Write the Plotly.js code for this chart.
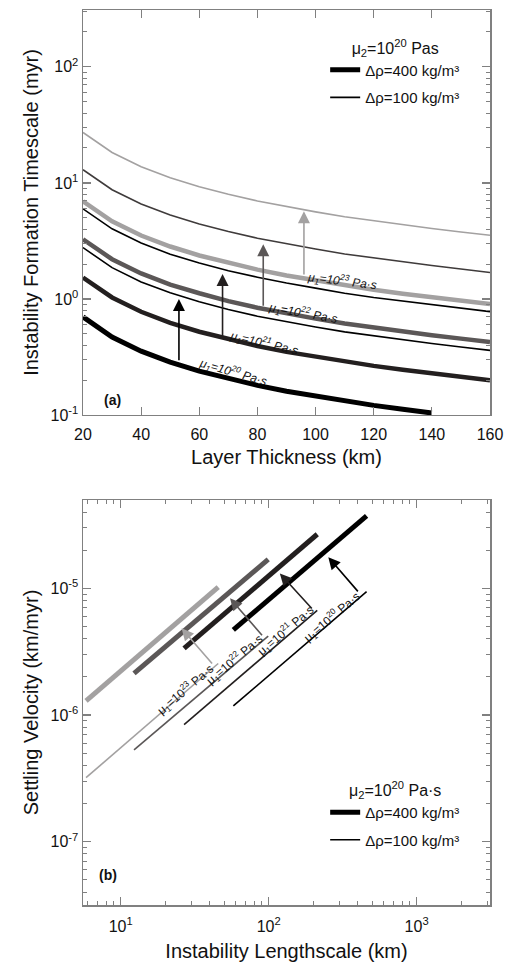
<!DOCTYPE html>
<html>
<head>
<meta charset="utf-8">
<script src="https://cdn.plot.ly/plotly-3.0.1.min.js"></script>
<style>html,body{margin:0;padding:0;background:#fff;}#chart{width:508px;height:962px;}</style>
</head>
<body>
<div id="chart"></div>
<script>
// ---- Panel (a): Layer thickness (km) vs instability formation timescale (myr)
const thickness = [20, 30, 40, 50, 60, 70, 80, 90, 100, 110, 120, 130, 140, 150, 160];
const thickness140 = [20, 30, 40, 50, 60, 70, 80, 90, 100, 110, 120, 130, 140];
const t20_400 = [0.70, 0.47, 0.355, 0.285, 0.239, 0.205, 0.18, 0.16, 0.145, 0.132, 0.121, 0.112, 0.104];
const t20_100 = [2.77, 1.86, 1.40, 1.13, 0.945, 0.81, 0.71, 0.634, 0.573, 0.52, 0.48, 0.443, 0.413, 0.385, 0.36];
const t21_400 = [1.53, 1.03, 0.776, 0.623, 0.522, 0.448, 0.393, 0.35, 0.317, 0.288, 0.265, 0.245, 0.228, 0.213, 0.199];
const t21_100 = [5.98, 4.02, 3.03, 2.43, 2.04, 1.75, 1.54, 1.37, 1.24, 1.12, 1.03, 0.957, 0.891, 0.831, 0.777];
const t22_400 = [3.27, 2.20, 1.66, 1.33, 1.12, 0.958, 0.84, 0.749, 0.677, 0.615, 0.566, 0.523, 0.487, 0.455, 0.425];
const t22_100 = [13.0, 8.74, 6.59, 5.29, 4.43, 3.81, 3.34, 2.98, 2.69, 2.44, 2.25, 2.08, 1.94, 1.81, 1.69];
const t23_400 = [6.95, 4.67, 3.52, 2.83, 2.37, 2.04, 1.79, 1.59, 1.44, 1.31, 1.20, 1.11, 1.04, 0.966, 0.904];
const t23_100 = [27.2, 18.3, 13.8, 11.1, 9.28, 7.97, 6.99, 6.23, 5.63, 5.11, 4.71, 4.35, 4.05, 3.78, 3.54];

// ---- Panel (b): Instability lengthscale (km) vs settling velocity (km/myr)
const L23 = [5.83, 45.6];
const L22 = [12.3, 99.3];
const L21 = [26.8, 213];
const L20 = [57.7, 459];
const v23_400 = [1.29e-6, 1.02e-5];
const v22_400 = [2.13e-6, 1.69e-5];
const v21_400 = [3.36e-6, 2.67e-5];
const v20_400 = [4.69e-6, 3.73e-5];
const v23_100 = [3.2e-7, 2.55e-6];
const v22_100 = [5.3e-7, 4.2e-6];
const v21_100 = [8.4e-7, 6.7e-6];
const v20_100 = [1.18e-6, 9.4e-6];

// tick labels
const ticksA_x = [20, 40, 60, 80, 100, 120, 140, 160];
const ticksA_y = [0.1, 1, 10, 100];
const ticksA_ytext = ['10<sup>-1</sup>', '10<sup>0</sup>', '10<sup>1</sup>', '10<sup>2</sup>'];
const ticksB_x = [10, 100, 1000];
const ticksB_xtext = ['10<sup>1</sup>', '10<sup>2</sup>', '10<sup>3</sup>'];
const ticksB_y = [1e-7, 1e-6, 1e-5];
const ticksB_ytext = ['10<sup>-7</sup>', '10<sup>-6</sup>', '10<sup>-5</sup>'];
const minorA_y = [0.2,0.3,0.4,0.5,0.6,0.7,0.8,0.9,2,3,4,5,6,7,8,9,20,30,40,50,60,70,80,90,200,300];
const minorB_x = [6,7,8,9,20,30,40,50,60,70,80,90,200,300,400,500,600,700,800,900,2000,3000];
const minorB_y = [4e-8,5e-8,6e-8,7e-8,8e-8,9e-8,2e-7,3e-7,4e-7,5e-7,6e-7,7e-7,8e-7,9e-7,
                  2e-6,3e-6,4e-6,5e-6,6e-6,7e-6,8e-6,9e-6,2e-5,3e-5,4e-5];

const C20 = '#000000', C21 = '#231f1f', C22 = '#5b5757', C23 = '#a3a1a1';
const THICK = 4.5, THIN = 1.6;

function tr(x, y, color, width, ax, name, legend, show, group) {
  return {
    x: x, y: y, type: 'scatter', mode: 'lines',
    line: {color: color, width: width},
    xaxis: ax === 1 ? 'x' : 'x2', yaxis: ax === 1 ? 'y' : 'y2',
    name: name || '', legend: legend || 'legend', showlegend: !!show,
    legendgroup: group || '', hoverinfo: 'skip'
  };
}

const traces = [
  tr(thickness, t23_100, C23, THIN, 1),
  tr(thickness, t22_100, '#3f3b3b', THIN, 1),
  tr(thickness, t23_400, C23, THICK, 1),
  tr(thickness, t21_100, C20, THIN, 1),
  tr(thickness, t22_400, C22, THICK, 1),
  tr(thickness, t21_400, C21, THICK, 1),
  tr(thickness140, t20_400, C20, THICK + 0.5, 1, 'Δρ=400 kg/m³', 'legend', true, 'a400'),
  tr(thickness, t20_100, C20, THIN, 1, 'Δρ=100 kg/m³', 'legend', true, 'a100'),

  tr(L23, v23_400, C23, 5, 2),
  tr(L22, v22_400, C22, 5, 2),
  tr(L21, v21_400, C21, 5, 2),
  tr(L20, v20_400, C20, 5, 2, 'Δρ=400 kg/m³', 'legend2', true, 'b400'),
  tr(L23, v23_100, C23, THIN, 2),
  tr(L22, v22_100, C22, THIN, 2),
  tr(L21, v21_100, C21, THIN, 2),
  tr(L20, v20_100, C20, THIN, 2, 'Δρ=100 kg/m³', 'legend2', true, 'b100')
];

const lg = Math.log10;
function arrowA(x, y0, y1, color) {
  return {xref: 'x', yref: 'y', axref: 'x', ayref: 'y', x: x, y: lg(y1), ax: x, ay: lg(y0),
    text: '', showarrow: true, arrowhead: 2, arrowsize: 1.5, arrowwidth: 1.6, arrowcolor: color};
}
function arrowB(x0, y0, x1, y1, color) {
  return {xref: 'x2', yref: 'y2', axref: 'x2', ayref: 'y2', x: lg(x1), y: lg(y1), ax: lg(x0), ay: lg(y0),
    text: '', showarrow: true, arrowhead: 2, arrowsize: 1.5, arrowwidth: 1.6, arrowcolor: color};
}
function labelA(x, ly, txt, ang) {
  return {xref: 'x', yref: 'y', x: x, y: ly, text: txt, showarrow: false, textangle: ang,
    font: {family: 'Liberation Sans, Arial', size: 12, color: '#111'}};
}
function labelB(lx, ly, txt) {
  return {xref: 'x2', yref: 'y2', x: lg(lx), y: lg(ly), text: txt, showarrow: false, textangle: -40.5,
    font: {family: 'Liberation Sans, Arial', size: 12, color: '#111'}};
}

const annotations = [
  arrowA(53, 0.287, 1.0, C20),
  arrowA(68, 0.463, 1.64, C21),
  arrowA(82, 0.85, 2.96, C22),
  arrowA(96, 1.58, 5.7, C23),
  labelA(71.5, -0.629, '<i>μ<sub>1</sub>=10<sup>20</sup> Pa·s</i>', 16),
  labelA(82.2, -0.379, '<i>μ<sub>1</sub>=10<sup>21</sup> Pa·s</i>', 13),
  labelA(95.7, -0.121, '<i>μ<sub>1</sub>=10<sup>22</sup> Pa·s</i>', 10),
  labelA(109, 0.153, '<i>μ<sub>1</sub>=10<sup>23</sup> Pa·s</i>', 7),

  arrowB(409, 9.2e-6, 253, 1.76e-5, C20),
  arrowB(200, 6.74e-6, 119, 1.31e-5, C21),
  arrowB(92, 4.15e-6, 54.8, 8.34e-6, C22),
  arrowB(42.3, 2.48e-6, 25.8, 4.83e-6, C23),
  labelB(267, 5.97e-6, 'μ<sub>1</sub>=10<sup>20</sup> Pa·s'),
  labelB(129, 4.63e-6, 'μ<sub>1</sub>=10<sup>21</sup> Pa·s'),
  labelB(58.3, 2.72e-6, 'μ<sub>1</sub>=10<sup>22</sup> Pa·s'),
  labelB(27.2, 1.57e-6, 'μ<sub>1</sub>=10<sup>23</sup> Pa·s'),

  {xref: 'paper', yref: 'paper', x: 0.046, y: 0.564, xanchor: 'left', yanchor: 'middle',
   text: '<b>(a)</b>', showarrow: false, font: {size: 14, color: '#111'}},
  {xref: 'paper', yref: 'paper', x: 0.034, y: 0.0335, xanchor: 'left', yanchor: 'middle',
   text: '<b>(b)</b>', showarrow: false, font: {size: 14, color: '#111'}}
];

const axisCommon = {
  showline: true, linecolor: '#808080', linewidth: 1.5, mirror: 'ticks',
  ticks: 'inside', ticklen: 8, tickcolor: '#808080', tickwidth: 1.2,
  showgrid: false, zeroline: false,
  tickfont: {size: 16, color: '#111'}
};
const minorCommon = {ticks: 'inside', ticklen: 4, tickcolor: '#808080', tickwidth: 1, showgrid: false, tickmode: 'array'};

const layout = {
  width: 508, height: 962,
  margin: {l: 83, r: 18, t: 10, b: 57},
  paper_bgcolor: '#fff', plot_bgcolor: '#fff',
  font: {family: 'Liberation Sans, Arial, sans-serif', color: '#111'},
  xaxis: Object.assign({}, axisCommon, {
    domain: [0, 1], anchor: 'y', range: [20, 160],
    tickmode: 'array', tickvals: ticksA_x, ticklabelstandoff: 4,
    title: {text: 'Layer Thickness (km)', font: {size: 20}, standoff: 8}
  }),
  yaxis: Object.assign({}, axisCommon, {
    domain: [0.5475, 1], anchor: 'x', type: 'log', range: [-1, 2.49],
    tickmode: 'array', tickvals: ticksA_y, ticktext: ticksA_ytext,
    minor: Object.assign({}, minorCommon, {tickvals: minorA_y}),
    title: {text: 'Instability Formation Timescale (myr)', font: {size: 20}, standoff: 6}
  }),
  xaxis2: Object.assign({}, axisCommon, {
    domain: [0, 1], anchor: 'y2', type: 'log', range: [0.745, 3.496],
    tickmode: 'array', tickvals: ticksB_x, ticktext: ticksB_xtext, ticklabelstandoff: 6,
    minor: Object.assign({}, minorCommon, {tickvals: minorB_x}),
    title: {text: 'Instability Lengthscale (km)', font: {size: 20}, standoff: 12}
  }),
  yaxis2: Object.assign({}, axisCommon, {
    domain: [0, 0.4525], anchor: 'x2', type: 'log', range: [-7.5, -4.303],
    tickmode: 'array', tickvals: ticksB_y, ticktext: ticksB_ytext,
    minor: Object.assign({}, minorCommon, {tickvals: minorB_y}),
    title: {text: 'Settling Velocity (km/myr)', font: {size: 20}, standoff: 6}
  }),
  legend: {
    x: 0.595, y: 0.9745, xanchor: 'left', yanchor: 'top',
    bgcolor: 'rgba(0,0,0,0)', font: {size: 15}, tracegroupgap: 5, itemwidth: 30,
    title: {text: 'μ<sub>2</sub>=10<sup>20</sup> Pas', side: 'top center', font: {size: 16}}
  },
  legend2: {
    x: 0.595, y: 0.145, xanchor: 'left', yanchor: 'top',
    bgcolor: 'rgba(0,0,0,0)', font: {size: 15}, tracegroupgap: 5, itemwidth: 30,
    title: {text: 'μ<sub>2</sub>=10<sup>20</sup> Pa·s', side: 'top center', font: {size: 16}}
  },
  annotations: annotations,
  showlegend: true
};

Plotly.newPlot('chart', traces, layout, {staticPlot: true, displayModeBar: false});
</script>
</body>
</html>
